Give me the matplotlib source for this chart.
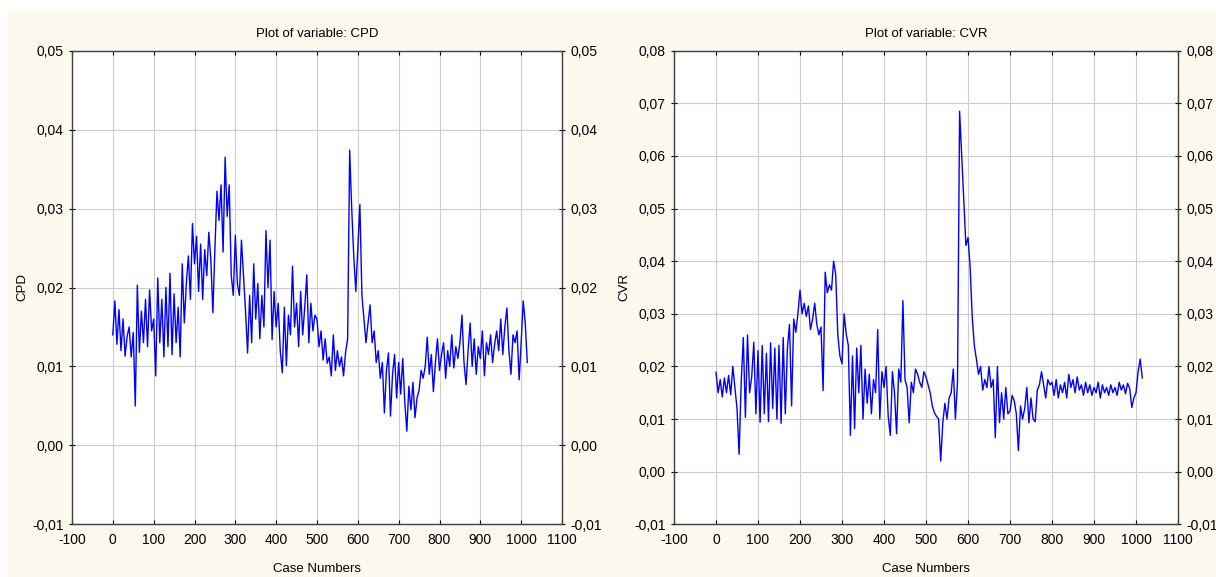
import numpy as np
import matplotlib.pyplot as plt
from matplotlib.ticker import FuncFormatter

plt.rcParams['font.family'] = ['Liberation Sans', 'DejaVu Sans']

# номера наблюдений (шаг 5)
cases = np.arange(0, 1016, 5)

cpd = [
    0.0140, 0.0183, 0.0128, 0.0172, 0.0120, 0.0160, 0.0113, 0.0138, 0.0150, 0.0112,
    0.0143, 0.0050, 0.0203, 0.0118, 0.0170, 0.0130, 0.0185, 0.0125, 0.0197, 0.0145,
    0.0160, 0.0088, 0.0212, 0.0130, 0.0185, 0.0112, 0.0200, 0.0125, 0.0218, 0.0115,
    0.0192, 0.0130, 0.0175, 0.0112, 0.0230, 0.0155, 0.0205, 0.0240, 0.0185, 0.0281,
    0.0230, 0.0265, 0.0195, 0.0255, 0.0185, 0.0248, 0.0215, 0.0270, 0.0235, 0.0168,
    0.0250, 0.0322, 0.0285, 0.0330, 0.0245, 0.0365, 0.0290, 0.0330, 0.0215, 0.0190,
    0.0266, 0.0205, 0.0190, 0.0260, 0.0215, 0.0170, 0.0117, 0.0190, 0.0130, 0.0230,
    0.0160, 0.0205, 0.0135, 0.0190, 0.0150, 0.0272, 0.0200, 0.0260, 0.0134, 0.0195,
    0.0150, 0.0180, 0.0120, 0.0092, 0.0175, 0.0101, 0.0165, 0.0140, 0.0227, 0.0150,
    0.0180, 0.0125, 0.0195, 0.0140, 0.0175, 0.0216, 0.0130, 0.0180, 0.0145, 0.0165,
    0.0160, 0.0125, 0.0145, 0.0108, 0.0135, 0.0104, 0.0112, 0.0088, 0.0140, 0.0095,
    0.0120, 0.0100, 0.0112, 0.0088, 0.0118, 0.0135, 0.0374, 0.0300, 0.0240, 0.0195,
    0.0250, 0.0305, 0.0190, 0.0160, 0.0130, 0.0155, 0.0178, 0.0130, 0.0145, 0.0105,
    0.0120, 0.0085, 0.0105, 0.0041, 0.0095, 0.0117, 0.0037, 0.0090, 0.0115, 0.0060,
    0.0105, 0.0065, 0.0110, 0.0055, 0.0018, 0.0075, 0.0045, 0.0080, 0.0035, 0.0060,
    0.0070, 0.0095, 0.0085, 0.0100, 0.0137, 0.0090, 0.0115, 0.0068, 0.0105, 0.0135,
    0.0095, 0.0115, 0.0130, 0.0085, 0.0120, 0.0100, 0.0140, 0.0098, 0.0125, 0.0110,
    0.0130, 0.0165, 0.0105, 0.0077, 0.0120, 0.0155, 0.0100, 0.0135, 0.0090, 0.0125,
    0.0110, 0.0145, 0.0088, 0.0130, 0.0115, 0.0140, 0.0105, 0.0128, 0.0145, 0.0120,
    0.0160, 0.0115, 0.0150, 0.0174, 0.0120, 0.0090, 0.0140, 0.0130, 0.0145, 0.0083,
    0.0130, 0.0183, 0.0155, 0.0105,
]

cvr = [
    0.0189, 0.0150, 0.0175, 0.0142, 0.0178, 0.0150, 0.0183, 0.0146, 0.0200, 0.0160,
    0.0120, 0.0033, 0.0170, 0.0255, 0.0103, 0.0260, 0.0150, 0.0180, 0.0246, 0.0110,
    0.0230, 0.0094, 0.0240, 0.0110, 0.0225, 0.0095, 0.0245, 0.0120, 0.0235, 0.0100,
    0.0240, 0.0092, 0.0255, 0.0110, 0.0235, 0.0280, 0.0125, 0.0290, 0.0265, 0.0300,
    0.0345, 0.0300, 0.0320, 0.0295, 0.0315, 0.0270, 0.0290, 0.0320, 0.0280, 0.0260,
    0.0275, 0.0154, 0.0379, 0.0340, 0.0355, 0.0345, 0.0400, 0.0375, 0.0260, 0.0220,
    0.0205, 0.0300, 0.0262, 0.0240, 0.0069, 0.0220, 0.0082, 0.0235, 0.0150, 0.0240,
    0.0100, 0.0195, 0.0130, 0.0185, 0.0110, 0.0175, 0.0150, 0.0270, 0.0100, 0.0190,
    0.0160, 0.0200, 0.0105, 0.0069, 0.0190, 0.0150, 0.0072, 0.0195, 0.0170, 0.0325,
    0.0175, 0.0160, 0.0093, 0.0170, 0.0150, 0.0195, 0.0185, 0.0170, 0.0160, 0.0190,
    0.0180, 0.0165, 0.0150, 0.0125, 0.0112, 0.0105, 0.0100, 0.0020, 0.0093, 0.0130,
    0.0100, 0.0140, 0.0150, 0.0195, 0.0100, 0.0170, 0.0685, 0.0600, 0.0517, 0.0430,
    0.0445, 0.0390, 0.0295, 0.0240, 0.0214, 0.0185, 0.0200, 0.0155, 0.0175, 0.0160,
    0.0200, 0.0160, 0.0175, 0.0065, 0.0200, 0.0093, 0.0150, 0.0100, 0.0160, 0.0110,
    0.0115, 0.0145, 0.0135, 0.0110, 0.0040, 0.0125, 0.0100, 0.0120, 0.0160, 0.0093,
    0.0140, 0.0100, 0.0095, 0.0155, 0.0165, 0.0190, 0.0165, 0.0140, 0.0175, 0.0165,
    0.0170, 0.0145, 0.0175, 0.0140, 0.0165, 0.0150, 0.0170, 0.0140, 0.0185, 0.0160,
    0.0175, 0.0150, 0.0180, 0.0155, 0.0165, 0.0145, 0.0170, 0.0150, 0.0165, 0.0145,
    0.0160, 0.0150, 0.0170, 0.0140, 0.0165, 0.0150, 0.0160, 0.0145, 0.0165, 0.0150,
    0.0160, 0.0145, 0.0170, 0.0155, 0.0165, 0.0148, 0.0168, 0.0158, 0.0122, 0.0140,
    0.0150, 0.0190, 0.0214, 0.0178,
]

xticks = np.arange(-100, 1101, 100)
yticks_cpd = np.arange(-0.01, 0.0501, 0.01)
yticks_cvr = np.arange(-0.01, 0.0801, 0.01)

W, H = 1216, 577
fig = plt.figure(figsize=(W / 100, H / 100), dpi=100, facecolor='white')
# кремовый фон как в Statistica
fig.patches.append(plt.Rectangle((8 / W, 0), 1 - 8 / W, 1 - 10 / H,
                                 transform=fig.transFigure,
                                 color='#fdf9ee', zorder=-1))

comma = FuncFormatter(lambda v, p: ('%.2f' % v).replace('.', ',').replace('-0,00', '0,00'))
plain = FuncFormatter(lambda v, p: '%d' % round(v))

panels = [
    (cpd, 'CPD', yticks_cpd, 72, 490),
    (cvr, 'CVR', yticks_cvr, 674, 504),
]

for y, name, yt, left, width in panels:
    ax = fig.add_axes([left / W, (H - 524.3) / H, width / W, 473.6 / H])
    ax.set_facecolor('white')
    ax.plot(cases, y, color='#0000ff', lw=1.0)
    ax.set_xlim(-100, 1100)
    ax.set_ylim(yt[0], yt[-1])
    ax.set_xticks(xticks)
    ax.set_yticks(yt)
    ax.xaxis.set_major_formatter(plain)
    ax.yaxis.set_major_formatter(comma)
    ax.grid(True, color='#cccccc', lw=0.8)
    ax.set_axisbelow(True)
    for s in ax.spines.values():
        s.set_color('#404040')
        s.set_linewidth(1.0)
    ax.tick_params(axis='x', direction='in', length=3, top=True, labelsize=10, pad=6)
    ax.tick_params(axis='y', direction='inout', length=4, right=True, labelright=True,
                   labelsize=10, pad=4)
    ax.set_title('Plot of variable: ' + name, fontsize=9.5, pad=10)
    ax.set_xlabel('Case Numbers', fontsize=9.5)
    ax.xaxis.set_label_coords(0.5, -0.082)
    ax.set_ylabel(name, fontsize=9.5)
    ax.yaxis.set_label_coords(-44 / width, 0.5)

plt.savefig('out.png', dpi=100, facecolor=fig.get_facecolor())
